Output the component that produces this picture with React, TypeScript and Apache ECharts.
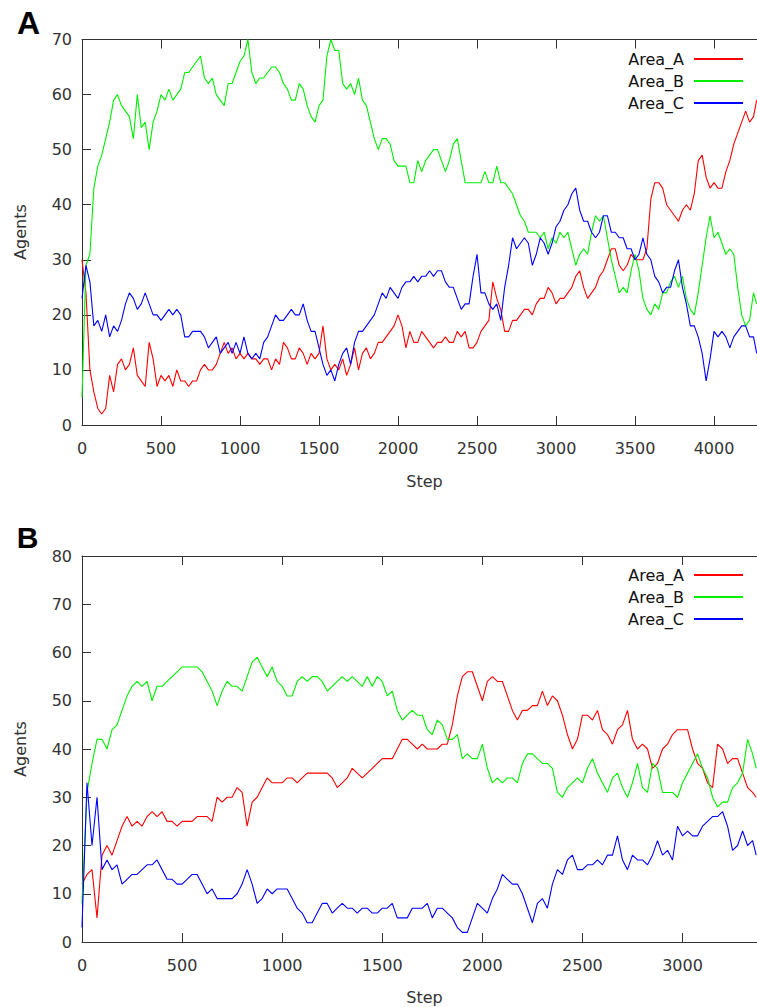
import React, { useEffect, useRef } from "react";
import * as echarts from "echarts";

// ---------- Panel A (steps every 25, last point = 4270) ----------
const stepA = 25;
const xMaxA = 4272;
const redA = [
  30, 24, 10, 6, 3, 2, 3, 9, 6, 11,
  12, 10, 11, 14, 9, 8, 7, 15, 12, 7,
  9, 8, 9, 7, 10, 8, 8, 7, 8, 8,
  10, 11, 10, 10, 11, 13, 15, 13, 14, 12,
  13, 12, 13, 12, 12, 11, 12, 12, 10, 12,
  11, 15, 14, 12, 12, 14, 13, 11, 13, 12,
  13, 18, 12, 10, 11, 10, 12, 9, 11, 14,
  10, 13, 14, 12, 13, 15, 15, 16, 17, 18,
  20, 18, 14, 17, 15, 15,
  17, 16, 15, 14, 15, 15, 16, 15, 15, 17,
  16, 17, 14, 14, 15, 17, 18, 19, 26, 23,
  21, 17, 17, 19, 19, 20, 21, 21, 20, 22,
  23, 23, 25, 24, 22, 23, 23, 24, 25, 27,
  28, 25, 23, 24, 25, 27, 28, 30, 32, 32,
  29, 28, 29, 31, 30, 30, 30, 32, 41, 44,
  44, 43, 40, 39, 38, 37, 39, 40, 39, 42,
  48, 49, 45, 43, 44, 43, 43, 46, 48, 51,
  53, 55, 57, 55, 56, 59,
];
const greenA = [
  5, 29, 31, 43, 47, 49, 52, 55, 59, 60,
  58, 57, 56, 52, 60, 54, 55, 50, 55, 57,
  60, 59, 61, 59, 60, 61, 64, 64, 65, 66,
  67, 63, 62, 63, 60, 59, 58, 62, 62, 64,
  66, 67, 70, 64, 62, 63, 63, 64, 65, 65,
  64, 62, 61, 59, 59, 62, 61, 58, 56, 55,
  58, 59, 67, 70, 68, 68, 62, 61, 62, 60,
  63, 59, 58, 55, 52, 50, 52, 52, 51, 48,
  47, 47, 47, 44, 44, 48,
  46, 48, 49, 50, 50, 48, 46, 48, 51, 52,
  48, 44, 44, 44, 44, 44, 46, 44, 44, 47,
  44, 44, 43, 42, 40, 38, 37, 35, 35, 35,
  34, 35, 32, 34, 33, 35, 34, 35, 32, 29,
  31, 32, 31, 35, 38, 37, 38, 34, 30, 27,
  24, 25, 24, 28, 31, 28, 23, 21, 20, 22,
  21, 24, 24, 26, 27, 25, 27, 23, 21, 20,
  24, 29, 34, 38, 34, 35, 33, 31, 32, 31,
  25, 20, 18, 19, 24, 22,
];
const blueA = [
  23, 29, 26, 18, 19, 17, 20, 16, 18, 17,
  19, 22, 24, 23, 21, 22, 24, 22, 20, 20,
  19, 20, 21, 20, 21, 20, 16, 16, 17, 17,
  17, 16, 14, 15, 16, 13, 14, 15, 13, 15,
  13, 16, 13, 12, 13, 12, 15, 16, 18, 20,
  19, 19, 20, 21, 20, 20, 22, 19, 17, 17,
  14, 11, 9, 10, 8, 11, 13, 14, 11, 15,
  17, 17, 18, 19, 20, 22, 24, 23, 25, 24,
  23, 25, 26, 26, 27, 26,
  27, 27, 28, 27, 28, 28, 26, 25, 25, 23,
  21, 22, 22, 27, 31, 24, 24, 22, 21, 22,
  19, 25, 29, 34, 32, 33, 34, 33, 29, 31,
  34, 33, 31, 33, 36, 37, 39, 40, 42, 43,
  39, 37, 37, 35, 34, 35, 38, 38, 35, 35,
  34, 34, 32, 32, 30, 31, 34, 31, 30, 27,
  26, 24, 25, 25, 28, 30, 25, 22, 18, 18,
  16, 13, 8, 12, 17, 16, 17, 16, 14, 16,
  17, 18, 18, 16, 16, 13,
];

// ---------- Panel B (steps every 25, last point = 3368) ----------
const stepB = 25;
const xMaxB = 3372;
const redB = [
  12, 14, 15, 5, 18, 20, 18, 21, 24, 26,
  24, 25, 24, 26, 27, 26, 27, 25, 25, 24,
  25, 25, 25, 26, 26, 26, 25, 30, 29, 30,
  30, 32, 31, 24, 29, 30, 32, 34, 33, 33,
  33, 34, 34, 33, 34, 35, 35, 35, 35, 35,
  34, 32, 33, 34, 36, 35, 34, 35, 36, 37,
  38, 38, 38, 40, 42, 42, 41, 40,
  41, 40, 40, 40, 41, 41, 45, 51, 55, 56,
  56, 53, 50, 54, 55, 54, 54, 51, 48, 46,
  48, 48, 49, 49, 52, 49, 51, 50, 47, 43,
  40, 42, 47, 47, 46, 48, 44, 43, 41, 44,
  45, 48, 42, 40, 41, 40, 36, 37, 40, 41,
  43, 44, 44, 44, 40, 37, 36, 33, 32, 41,
  40, 37, 38, 38, 35, 32, 31, 30,
];
const greenB = [
  8, 31, 37, 42, 42, 40, 44, 45, 48, 51,
  53, 54, 53, 54, 50, 53, 53, 54, 55, 56,
  57, 57, 57, 57, 56, 54, 52, 49, 52, 54,
  53, 53, 52, 55, 58, 59, 57, 55, 57, 54,
  53, 51, 51, 54, 55, 54, 55, 55, 54, 52,
  53, 54, 55, 54, 55, 54, 53, 55, 53, 55,
  54, 51, 52, 48, 46, 47, 48, 47,
  47, 44, 43, 46, 45, 42, 42, 43, 38, 39,
  38, 38, 41, 36, 33, 34, 33, 34, 34, 33,
  37, 39, 39, 38, 37, 37, 36, 31, 30, 32,
  33, 34, 33, 36, 38, 35, 33, 31, 34, 35,
  32, 30, 33, 37, 32, 31, 37, 36, 31, 31,
  31, 30, 33, 35, 37, 39, 36, 34, 30, 28,
  29, 29, 32, 33, 35, 42, 39, 36,
];
const blueB = [
  3, 33, 20, 30, 15, 17, 15, 16, 12, 13,
  14, 14, 15, 16, 16, 17, 15, 13, 13, 12,
  12, 13, 14, 14, 12, 10, 11, 9, 9, 9,
  9, 10, 12, 15, 12, 8, 9, 11, 10, 11,
  11, 11, 9, 7, 6, 4, 4, 6, 8, 8,
  6, 7, 8, 7, 7, 6, 7, 7, 6, 6,
  7, 7, 8, 5, 5, 5, 7, 7,
  7, 8, 5, 7, 7, 6, 5, 3, 2, 2,
  5, 8, 7, 6, 9, 11, 14, 13, 12, 12,
  10, 7, 4, 8, 9, 7, 12, 15, 14, 17,
  18, 15, 15, 16, 16, 17, 16, 18, 18, 22,
  17, 15, 18, 17, 17, 16, 18, 21, 18, 19,
  17, 24, 22, 23, 22, 22, 24, 25, 26, 26,
  27, 24, 19, 20, 23, 20, 21, 18,
];

const seriesNames = ["Area_A", "Area_B", "Area_C"];
const seriesColors = ["#ff0000", "#00ee00", "#0000ff"];
const yMaxA = 70;
const yMaxB = 80;

const FONT = '"DejaVu Sans", Verdana, sans-serif';
const TEXT = "#333333";
const AXIS = "#333333";

function toPairs(vals: number[], step: number, last: number) {
  return vals.map((v, i) => [Math.min(i * step, last), v]);
}

export default function App() {
  const ref = useRef<HTMLDivElement>(null);

  useEffect(() => {
    if (!ref.current) return;
    const chart = echarts.init(ref.current, undefined, { renderer: "svg" });

    const xBottom = (grid: number, max: number) => ({
      type: "value",
      gridIndex: grid,
      position: "bottom",
      min: 0,
      max,
      interval: 500,
      axisLine: { show: true, onZero: false, lineStyle: { color: AXIS, width: 1 } },
      axisTick: { show: true, inside: true, length: 9, lineStyle: { color: AXIS } },
      axisLabel: {
        show: true,
        margin: 15,
        fontSize: 16,
        color: TEXT,
        fontFamily: FONT,
        showMaxLabel: false,
        formatter: (v: number) => String(v),
      },
      splitLine: { show: false },
    });
    const xTop = (grid: number, max: number) => ({
      type: "value",
      gridIndex: grid,
      position: "top",
      min: 0,
      max,
      interval: 500,
      axisLine: { show: true, onZero: false, lineStyle: { color: AXIS, width: 1 } },
      axisTick: { show: true, inside: true, length: 9, lineStyle: { color: AXIS } },
      axisLabel: { show: false },
      splitLine: { show: false },
    });
    const yLeft = (grid: number, max: number) => ({
      type: "value",
      gridIndex: grid,
      min: 0,
      max,
      interval: 10,
      axisLine: { show: true, onZero: false, lineStyle: { color: AXIS, width: 1 } },
      axisTick: { show: true, inside: true, length: 9, lineStyle: { color: AXIS } },
      axisLabel: { show: true, margin: 10, fontSize: 16, color: TEXT, fontFamily: FONT },
      splitLine: { show: false },
    });

    const mk = (name: string, color: string, vals: number[], step: number, last: number, idx: number) => ({
      type: "line",
      name,
      xAxisIndex: idx * 2,
      yAxisIndex: idx,
      data: toPairs(vals, step, last),
      symbol: "none",
      showSymbol: false,
      lineStyle: { color, width: 1.1 },
      itemStyle: { color },
      clip: true,
    });

    const legendCommon = {
      orient: "vertical",
      align: "right",
      right: 9,
      icon: "rect",
      itemWidth: 49,
      itemHeight: 2,
      itemGap: 6,
      data: seriesNames,
      textStyle: { fontSize: 16, color: "#111", fontFamily: FONT, lineHeight: 16, padding: [0, 5, 0, 0] },
      selectedMode: false,
    };

    const txt = (text: string, x: number, y: number, font: string, rotation = 0) => ({
      type: "text",
      x,
      y,
      rotation,
      silent: true,
      style: {
        text,
        font,
        fill: text.length === 1 ? "#000" : TEXT,
        align: "center",
        verticalAlign: "middle",
        textAlign: "center",
        textVerticalAlign: "middle",
      },
    });

    chart.setOption({
      animation: false,
      backgroundColor: "#ffffff",
      grid: [
        { left: 82, top: 39.5, width: 676, height: 385.5, containLabel: false },
        { left: 82, top: 556, width: 676, height: 386, containLabel: false },
      ],
      xAxis: [xBottom(0, xMaxA), xTop(0, xMaxA), xBottom(1, xMaxB), xTop(1, xMaxB)],
      yAxis: [yLeft(0, yMaxA), yLeft(1, yMaxB)],
      legend: [
        { ...legendCommon, top: 46 },
        { ...legendCommon, top: 562 },
      ],
      series: [
        mk(seriesNames[0], seriesColors[0], redA, stepA, 4270, 0),
        mk(seriesNames[1], seriesColors[1], greenA, stepA, 4270, 0),
        mk(seriesNames[2], seriesColors[2], blueA, stepA, 4270, 0),
        mk(seriesNames[0], seriesColors[0], redB, stepB, 3368, 1),
        mk(seriesNames[1], seriesColors[1], greenB, stepB, 3368, 1),
        mk(seriesNames[2], seriesColors[2], blueB, stepB, 3368, 1),
      ],
      graphic: [
        txt("A", 28.5, 23.4, `bold 32px "Liberation Sans", Arial, sans-serif`),
        txt("B", 27.5, 537.4, `bold 30px "Liberation Sans", Arial, sans-serif`),
        txt("Step", 424.5, 481, `16px ${FONT}`),
        txt("Step", 424.5, 997, `16px ${FONT}`),
        txt("Agents", 20, 232, `16px ${FONT}`, Math.PI / 2),
        txt("Agents", 20, 749, `16px ${FONT}`, Math.PI / 2),
      ],
    });

    return () => chart.dispose();
  }, []);

  return (
    <div
      ref={ref}
      style={{ position: "fixed", left: 0, top: 0, width: 757, height: 1007, background: "#fff" }}
    />
  );
}
